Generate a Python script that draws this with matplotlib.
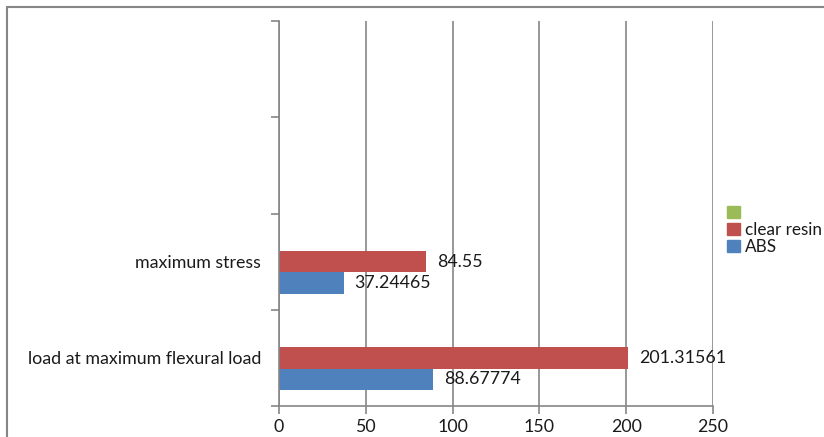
import numpy as np
import matplotlib.pyplot as plt
from matplotlib.patches import Patch, Rectangle

# data
categories = ['load at maximum flexural load', 'maximum stress', '', '']
abs_vals = [88.67774, 37.24465, np.nan, np.nan]
resin_vals = [201.31561, 84.55, np.nan, np.nan]
third_vals = [np.nan, np.nan, np.nan, np.nan]
series_names = ['ABS', 'clear resin', '']
colors = ['#4F81BD', '#C0504D', '#9BBB59']
value_labels = [['88.67774', '37.24465'], ['201.31561', '84.55']]

plt.rcParams['font.family'] = ['Lato', 'DejaVu Sans']
grey = '#868686'
fs = 12.8

fig = plt.figure(figsize=(8.24, 4.37), dpi=100)
ax = fig.add_axes([279 / 824, 1 - 406 / 437, (713 - 279) / 824, (406 - 21) / 437])

# outer chart border (cut off on the right and bottom)
fig.patches.append(Rectangle((7 / 824, -0.2), 1.3, 1.2 - 7 / 437,
                             transform=fig.transFigure, fill=False,
                             edgecolor=grey, linewidth=1.5))

y = np.arange(len(categories))
h = 0.222
series = [abs_vals, resin_vals, third_vals]
for i, vals in enumerate(series):
    ax.barh(y + (i - 1) * h, vals, height=h, color=colors[i])

for i in range(2):
    vals = series[i]
    for j in range(2):
        ax.text(vals[j] + 6.3, y[j] + (i - 1) * h, value_labels[i][j],
                va='center', ha='left', fontsize=fs, color='#1a1a1a')

ax.set_xlim(0, 250)
ax.set_ylim(-0.5, 3.5)
ax.set_xticks([0, 50, 100, 150, 200, 250])
ax.set_yticks([-0.5, 0.5, 1.5, 2.5, 3.5])
ax.set_yticklabels([])
ax.set_yticks(y, minor=True)
ax.set_yticklabels(categories, minor=True, color='#1a1a1a')
ax.tick_params(axis='y', which='minor', length=0, pad=13, labelsize=fs)
ax.tick_params(axis='y', which='major', length=6, color=grey, width=1.2)
ax.tick_params(axis='x', length=6, color=grey, width=1.2, labelsize=fs, pad=3,
               labelcolor='#1a1a1a')
ax.grid(axis='x', color=grey, linewidth=1.2)
ax.set_axisbelow(True)
for s in ['top', 'right']:
    ax.spines[s].set_visible(False)
for s in ['left', 'bottom']:
    ax.spines[s].set_color(grey)
    ax.spines[s].set_linewidth(1.2)

handles = [Patch(color=colors[2]), Patch(color=colors[1]), Patch(color=colors[0])]
labels = [series_names[2], series_names[1], series_names[0]]
fig.legend(handles, labels, loc='center left', bbox_to_anchor=(727 / 824, 1 - 230 / 437),
           frameon=False, fontsize=12.3, handlelength=0.75, handleheight=0.75,
           handletextpad=0.3, labelspacing=0.05, borderpad=0, borderaxespad=0,
           labelcolor='#1a1a1a')

fig.savefig('out.png', dpi=100)
